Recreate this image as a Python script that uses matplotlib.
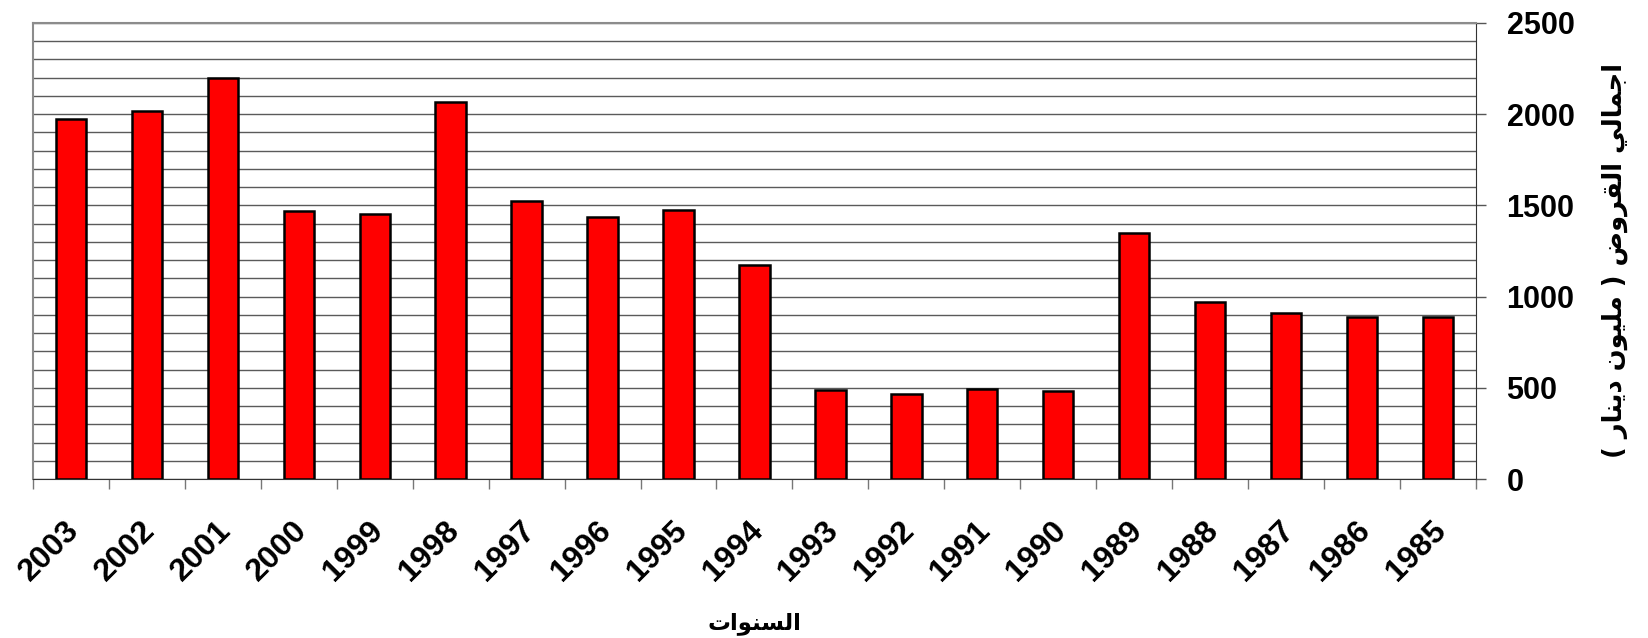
"""
Total loans per year, bar chart with the value axis on the right.
"""

import matplotlib
matplotlib.use("Agg")
import matplotlib.pyplot as plt
import matplotlib.transforms as mtransforms
import numpy as np

# ---------------------------------------------------------------------------
# Data
# ---------------------------------------------------------------------------
years = ["2003", "2002", "2001", "2000", "1999", "1998", "1997", "1996", "1995",
         "1994", "1993", "1992", "1991", "1990", "1989", "1988", "1987", "1986",
         "1985"]
loans = [1975, 2015, 2200, 1470, 1455, 2065, 1525, 1437, 1475,
         1175, 490, 465, 495, 485, 1350, 970, 913, 887, 890]

x_title = "السنوات"
y_title = "اجمالي القروض ( مليون دينار )"

# ---------------------------------------------------------------------------
# Minimal Arabic shaping (presentation forms + visual order), since
# matplotlib does not shape Arabic on its own.
# ---------------------------------------------------------------------------
# letter: (isolated, final, initial, medial); None => right-joining only
_FORMS = {
    "ا": ("\uFE8D", "\uFE8E", None, None),
    "ت": ("\uFE95", "\uFE96", "\uFE97", "\uFE98"),
    "ج": ("\uFE9D", "\uFE9E", "\uFE9F", "\uFEA0"),
    "د": ("\uFEA9", "\uFEAA", None, None),
    "ر": ("\uFEAD", "\uFEAE", None, None),
    "س": ("\uFEB1", "\uFEB2", "\uFEB3", "\uFEB4"),
    "ض": ("\uFEBD", "\uFEBE", "\uFEBF", "\uFEC0"),
    "ق": ("\uFED5", "\uFED6", "\uFED7", "\uFED8"),
    "ل": ("\uFEDD", "\uFEDE", "\uFEDF", "\uFEE0"),
    "م": ("\uFEE1", "\uFEE2", "\uFEE3", "\uFEE4"),
    "ن": ("\uFEE5", "\uFEE6", "\uFEE7", "\uFEE8"),
    "و": ("\uFEED", "\uFEEE", None, None),
    "ي": ("\uFEF1", "\uFEF2", "\uFEF3", "\uFEF4"),
}


def _dual(ch):
    return ch in _FORMS and _FORMS[ch][2] is not None


def shape_arabic(text):
    out = []
    for i, ch in enumerate(text):
        if ch not in _FORMS:
            out.append(ch)
            continue
        prev = text[i - 1] if i > 0 else ""
        nxt = text[i + 1] if i + 1 < len(text) else ""
        j_prev = _dual(prev)
        j_next = _dual(ch) and nxt in _FORMS
        iso, fin, ini, med = _FORMS[ch]
        if j_prev and j_next:
            out.append(med)
        elif j_prev:
            out.append(fin)
        elif j_next:
            out.append(ini)
        else:
            out.append(iso)
    vis = "".join(reversed(out))
    return vis.translate(str.maketrans("()", ")("))


# ---------------------------------------------------------------------------
# Figure
# ---------------------------------------------------------------------------
plt.rcParams["font.family"] = ["Liberation Sans", "DejaVu Sans"]

fig = plt.figure(figsize=(16.48, 6.38), dpi=100)
ax = fig.add_axes([0.020, 0.249, 0.8756, 0.715])

x = np.arange(len(years))
ax.bar(x, loans, width=0.4, color="#ff0000", edgecolor="black",
       linewidth=1.8, zorder=3)

ax.set_xlim(-0.5, len(years) - 0.5)
ax.set_ylim(0, 2500)

# gridlines every 100
ax.set_yticks(np.arange(0, 2501, 500))
ax.set_yticks(np.arange(0, 2501, 100), minor=True)
ax.yaxis.grid(True, which="both", color="#5a5a5a", linewidth=1.0, zorder=0)
ax.set_axisbelow(True)

ax.yaxis.tick_right()
ax.tick_params(axis="y", which="major", direction="out", length=7,
               width=1, color="#555555", pad=15, labelsize=22)
ax.tick_params(axis="y", which="minor", length=0)
for lbl in ax.get_yticklabels():
    lbl.set_fontweight("bold")

# year labels at bar centres, tick marks at category boundaries
ax.set_xticks(x)
ax.set_xticks(np.arange(-0.5, len(years), 1.0), minor=True)
ax.set_xticklabels(years, rotation=45, ha="right", va="top",
                   rotation_mode="anchor", fontsize=23, fontweight="bold")
ax.tick_params(axis="x", which="major", length=0, pad=26)
ax.tick_params(axis="x", which="minor", direction="out", length=7,
               width=1, color="#777777")
shift = mtransforms.ScaledTranslation(-7 / 100, 0, fig.dpi_scale_trans)
for lbl in ax.get_xticklabels():
    lbl.set_transform(lbl.get_transform() + shift)

for side in ("left", "top"):
    ax.spines[side].set_color("#8c8c8c")
    ax.spines[side].set_linewidth(1.5)
ax.spines["right"].set_color("#333333")
ax.spines["bottom"].set_color("#333333")

ax.set_xlabel(shape_arabic(x_title), fontsize=16.5, fontweight="bold",
              family=["DejaVu Sans"], labelpad=18)
ax.yaxis.set_label_position("right")
ax.set_ylabel(shape_arabic(y_title), fontsize=18.5, fontweight="bold",
              family=["DejaVu Sans"], rotation=90, labelpad=18)
ax.yaxis.set_label_coords(1.087, 0.48)

fig.savefig("out.png", dpi=100)
plt.close(fig)
